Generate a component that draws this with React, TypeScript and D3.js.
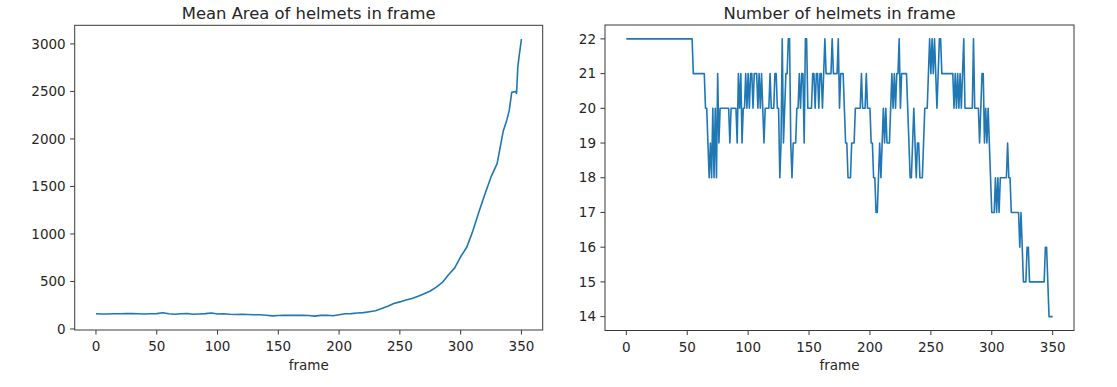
import React from 'react';
import * as d3 from 'd3';

// mean helmet area (frame -> px^2)
const areaFrames = [0, 5, 10, 15, 20, 25, 30, 35, 40, 45, 50, 55, 60, 65, 70, 75, 80, 85, 90, 95,
  100, 105, 110, 115, 120, 125, 130, 135, 140, 145, 150, 155, 160, 165, 170, 175, 180, 185, 190, 195,
  200, 205, 210, 215, 220, 225, 230, 235, 240, 245, 250, 255, 260, 265, 270, 275, 280, 285, 290, 295,
  300, 305, 310, 315, 320, 325, 330, 335, 338, 340, 342, 345, 346, 347, 348, 350];
const areaValues = [160, 158, 157, 160, 161, 162, 163, 160, 158, 160, 162, 170, 160, 155, 160, 163, 155, 158, 162, 168,
  158, 160, 155, 152, 155, 153, 150, 150, 145, 138, 142, 144, 143, 145, 143, 142, 135, 143, 145, 140,
  150, 160, 162, 168, 172, 182, 192, 215, 240, 268, 285, 305, 320, 345, 370, 400, 440, 490, 570, 640,
  760, 860, 1030, 1230, 1420, 1600, 1740, 2080, 2200, 2300, 2490, 2500, 2480, 2750, 2860, 3050];

// number of helmets, one value per frame 0..350
const helmetCounts = [
  22, 22, 22, 22, 22, 22, 22, 22, 22, 22, 22, 22, 22, 22, 22, 22, 22, 22, 22, 22,
  22, 22, 22, 22, 22, 22, 22, 22, 22, 22, 22, 22, 22, 22, 22, 22, 22, 22, 22, 22,
  22, 22, 22, 22, 22, 22, 22, 22, 22, 22, 22, 22, 22, 22, 22,
  21, 21, 21, 21, 21, 21, 21, 21, 21, 21,
  20, 20, 19, 18, 19, 18, 20, 18, 20, 18,
  21, 19, 20, 20, 20, 20, 20, 20, 20, 20,
  19, 20, 20, 20, 20, 20, 19, 21, 20, 21,
  19, 20, 20, 21, 20, 21, 20, 21, 21, 20,
  21, 21, 21, 20, 21, 20, 21, 20, 19, 20,
  20, 20, 20, 21, 20, 20, 20, 21, 21, 20,
  20, 18, 19, 22, 19, 20, 21, 21, 22, 22,
  19, 18, 19, 19, 19, 20, 20, 21, 20, 21,
  21, 19, 22, 22, 20, 20, 20, 20, 21, 21,
  20, 21, 21, 20, 21, 21, 20, 21, 22, 21,
  21, 21, 21, 21, 22, 21, 21, 21, 21, 22,
  20, 21, 21, 21, 20, 19, 19, 18, 18, 18,
  19, 19, 19, 20, 20, 20, 20, 20, 21, 20,
  20, 20, 21, 20, 20, 20, 19, 19, 18, 18,
  17, 17, 18, 19, 18, 19, 20, 19, 20, 19,
  19, 19, 20, 21, 20, 21, 20, 21, 21, 22,
  20, 21, 21, 21, 21, 21, 20, 19, 18, 18,
  19, 20, 19, 18, 19, 19, 18, 18, 18, 19,
  20, 20, 20, 21, 22, 21, 22, 21, 22, 21,
  20, 21, 22, 22, 21, 21, 21, 21, 21, 21,
  21, 21, 21, 21, 20, 21, 20, 21, 20, 21,
  20, 21, 22, 20, 20, 20, 20, 20, 20, 20,
  22, 20, 20, 20, 20, 19, 20, 21, 21, 19,
  20, 19, 20, 19, 18, 17, 17, 17, 18, 17,
  18, 17, 18, 18, 18, 18, 18, 18, 19, 18,
  18, 17, 17, 17, 17, 17, 17, 17, 16, 17,
  16, 15, 15, 15, 16, 16, 15, 15, 15, 15,
  15, 15, 15, 15, 15, 15, 15, 15, 15, 16,
  16, 15, 14, 14, 14, 14,
];

const xTicks = [0, 50, 100, 150, 200, 250, 300, 350];
const areaTicks = [0, 500, 1000, 1500, 2000, 2500, 3000];
const countTicks = [14, 15, 16, 17, 18, 19, 20, 21, 22];

const FONT = '"DejaVu Sans", sans-serif';
const INK = '#262626';
const BLUE = '#1f77b4';

type Pt = [number, number];

// matplotlib-style 5% autoscale margin
function pad(ext: [number, number]): [number, number] {
  const r = ext[1] - ext[0];
  return [ext[0] - r * 0.05, ext[1] + r * 0.05];
}

function Panel({ box, title, pts, yTicks }: {
  box: { x0: number; x1: number; y0: number; y1: number };
  title: string;
  pts: Pt[];
  yTicks: number[];
}) {
  const x = d3.scaleLinear()
    .domain(pad(d3.extent(pts, d => d[0]) as [number, number]))
    .range([box.x0, box.x1]);
  const y = d3.scaleLinear()
    .domain(pad(d3.extent(pts, d => d[1]) as [number, number]))
    .range([box.y1, box.y0]);
  const line = d3.line<Pt>().x(d => x(d[0])).y(d => y(d[1]));
  const cx = (box.x0 + box.x1) / 2;

  return (
    <g>
      <text x={cx} y={18.5} textAnchor="middle" fontSize={16.4} fill={INK} fontFamily={FONT}>{title}</text>
      <path d={line(pts) || ''} fill="none" stroke={BLUE} strokeWidth={1.6} strokeLinejoin="round" />
      <rect x={box.x0} y={box.y0} width={box.x1 - box.x0} height={box.y1 - box.y0}
        fill="none" stroke="#3a3a3a" strokeWidth={1} />
      {xTicks.map(t => (
        <g key={'x' + t} transform={`translate(${x(t)},${box.y1})`}>
          <line y2={4.6} stroke="#3a3a3a" />
          <text y={21} textAnchor="middle" fontSize={13.5} fill={INK} fontFamily={FONT}>{t}</text>
        </g>
      ))}
      {yTicks.map(t => (
        <g key={'y' + t} transform={`translate(${box.x0},${y(t)})`}>
          <line x2={-4.6} stroke="#3a3a3a" />
          <text x={-9} dy="0.35em" textAnchor="end" fontSize={13.5} fill={INK} fontFamily={FONT}>{t}</text>
        </g>
      ))}
      <text x={cx} y={370} textAnchor="middle" fontSize={13.5} fill={INK} fontFamily={FONT}>frame</text>
    </g>
  );
}

export default function App() {
  const areaPts: Pt[] = areaFrames.map((f, i) => [f, areaValues[i]]);
  const countPts: Pt[] = helmetCounts.map((v, i) => [i, v]);

  return (
    <div style={{ position: 'absolute', left: 0, top: 0 }}>
      <svg width={1117} height={387} style={{ display: 'block', background: '#fff' }}>
        <Panel box={{ x0: 74.7, x1: 542.7, y0: 25.3, y1: 330 }}
          title="Mean Area of helmets in frame" pts={areaPts} yTicks={areaTicks} />
        <Panel box={{ x0: 605, x1: 1074, y0: 25, y1: 330.5 }}
          title="Number of helmets in frame" pts={countPts} yTicks={countTicks} />
      </svg>
    </div>
  );
}
